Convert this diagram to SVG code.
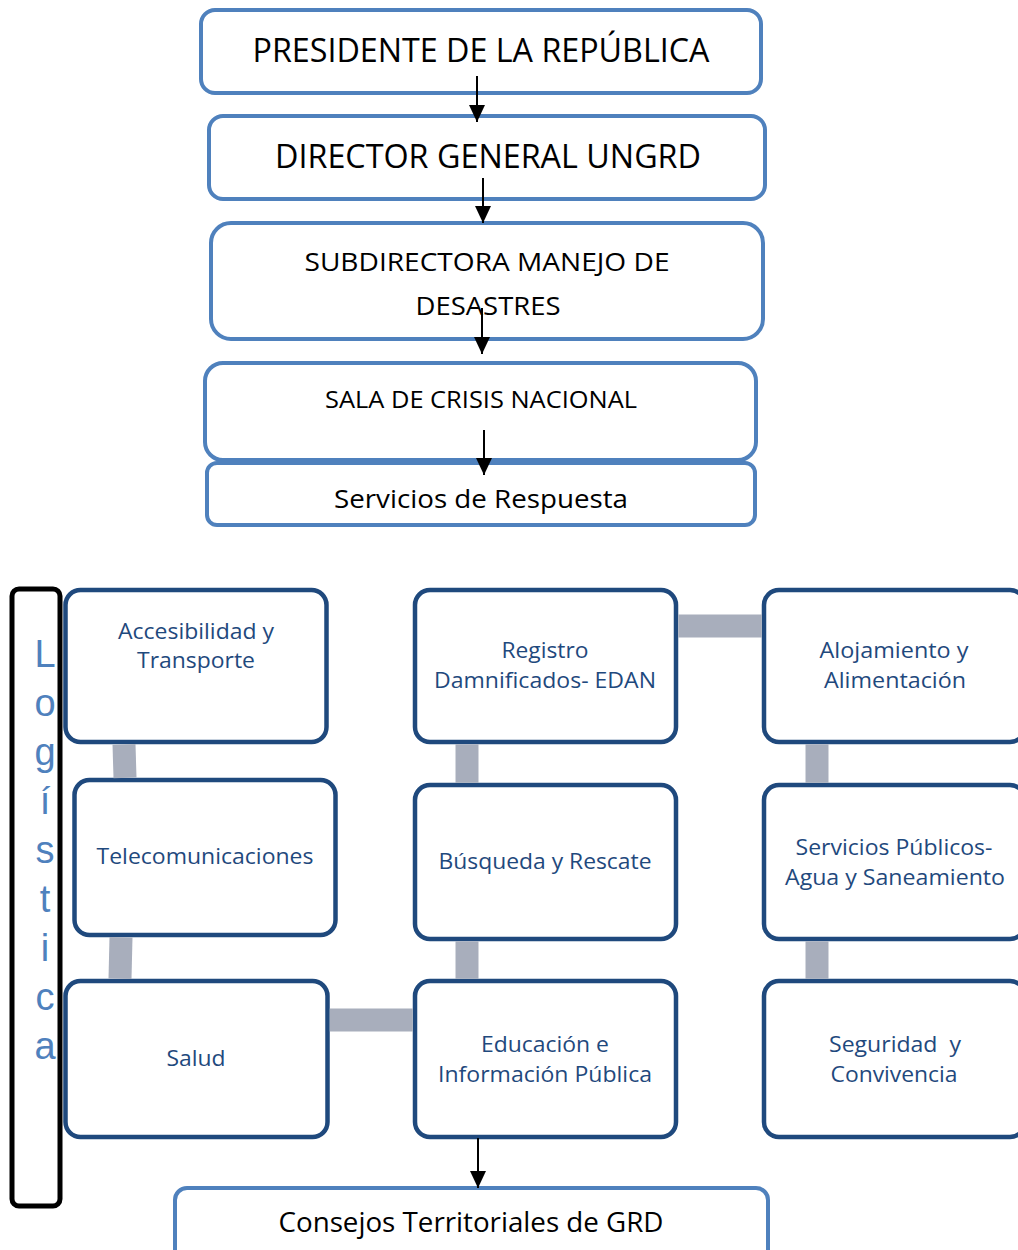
<svg xmlns="http://www.w3.org/2000/svg" width="1018" height="1250" viewBox="0 0 1018 1250">
<style>
.top{fill:#fff;stroke:#4F81BD;stroke-width:4}
.node{fill:#fff;stroke:#1F497D;stroke-width:4.5}
.tt{font-family:"Open Sans","Noto Sans",sans-serif;fill:#000;text-anchor:middle}
.nt{font-family:"Open Sans","Noto Sans",sans-serif;fill:#1F497D;text-anchor:middle;font-size:22px}
.link{stroke:#A8AEBC;stroke-width:23;fill:none}
.arrow{stroke:#000;stroke-width:2;fill:none;marker-end:url(#ah)}
</style>
<defs>
<marker id="ah" viewBox="0 0 17 16" markerWidth="17" markerHeight="16" refX="17" refY="8" orient="auto" markerUnits="userSpaceOnUse">
<path d="M0,0 L17,8 L0,16 z" fill="#000"/>
</marker>
</defs>
<rect width="1018" height="1250" fill="#fff"/>

<g id="node-presidente">
<rect class="top" x="201" y="10" width="560" height="83" rx="14"/>
<text class="tt" x="481" y="62" font-size="33" textLength="457" lengthAdjust="spacingAndGlyphs">PRESIDENTE DE LA REPÚBLICA</text>
</g>
<g id="node-director">
<rect class="top" x="209" y="116" width="556" height="83" rx="14"/>
<text class="tt" x="488" y="168" font-size="33" textLength="426" lengthAdjust="spacingAndGlyphs">DIRECTOR GENERAL UNGRD</text>
</g>
<g id="node-subdirectora">
<rect class="top" x="211" y="223" width="552" height="116" rx="20"/>
<text class="tt" x="487" y="271" font-size="26" textLength="365" lengthAdjust="spacingAndGlyphs">SUBDIRECTORA MANEJO DE</text>
<text class="tt" x="488" y="315" font-size="26" textLength="145" lengthAdjust="spacingAndGlyphs">DESASTRES</text>
</g>
<g id="node-sala">
<rect class="top" x="205" y="363" width="551" height="97" rx="18"/>
<text class="tt" x="481" y="408" font-size="24" textLength="312" lengthAdjust="spacingAndGlyphs">SALA DE CRISIS NACIONAL</text>
</g>
<g id="node-servicios-respuesta">
<rect class="top" x="207" y="463" width="548" height="62" rx="10"/>
<text class="tt" x="481" y="508" font-size="26" textLength="294" lengthAdjust="spacingAndGlyphs">Servicios de Respuesta</text>
</g>

<g id="node-logistica">
<rect x="12" y="589" width="48" height="617" rx="7" fill="#fff" stroke="#000" stroke-width="5"/>
<text font-family="'Liberation Sans',Arial,sans-serif" font-size="38" fill="#4F81BD" text-anchor="middle">
<tspan x="45" y="667">L</tspan><tspan x="45" y="716">o</tspan><tspan x="45" y="765">g</tspan><tspan x="45" y="814">í</tspan><tspan x="45" y="863">s</tspan><tspan x="45" y="912">t</tspan><tspan x="45" y="961">i</tspan><tspan x="45" y="1010">c</tspan><tspan x="45" y="1059">a</tspan>
</text>
</g>

<g id="node-accesibilidad">
<rect class="node" x="65.5" y="590" width="261" height="152" rx="15"/>
<text class="nt" x="196" y="639" textLength="156" lengthAdjust="spacingAndGlyphs">Accesibilidad y</text>
<text class="nt" x="196" y="668" textLength="118" lengthAdjust="spacingAndGlyphs">Transporte</text>
</g>
<g id="node-telecomunicaciones">
<rect class="node" x="74.5" y="780" width="261" height="155" rx="15"/>
<text class="nt" x="205" y="864" textLength="217" lengthAdjust="spacingAndGlyphs">Telecomunicaciones</text>
</g>
<g id="node-salud">
<rect class="node" x="65.5" y="981" width="262" height="156" rx="15"/>
<text class="nt" x="196" y="1066" textLength="59" lengthAdjust="spacingAndGlyphs">Salud</text>
</g>
<g id="node-registro">
<rect class="node" x="415" y="590" width="261" height="152" rx="15"/>
<text class="nt" x="545" y="658" textLength="87" lengthAdjust="spacingAndGlyphs">Registro</text>
<text class="nt" x="545" y="688" textLength="222" lengthAdjust="spacingAndGlyphs">Damnificados- EDAN</text>
</g>
<g id="node-busqueda">
<rect class="node" x="415" y="785" width="261" height="154" rx="15"/>
<text class="nt" x="545" y="869" textLength="213" lengthAdjust="spacingAndGlyphs">Búsqueda y Rescate</text>
</g>
<g id="node-educacion">
<rect class="node" x="415" y="981" width="261" height="156" rx="15"/>
<text class="nt" x="545" y="1052" textLength="128" lengthAdjust="spacingAndGlyphs">Educación e</text>
<text class="nt" x="545" y="1082" textLength="214" lengthAdjust="spacingAndGlyphs">Información Pública</text>
</g>
<g id="node-alojamiento">
<rect class="node" x="764" y="590" width="261" height="152" rx="15"/>
<text class="nt" x="894" y="658" textLength="149" lengthAdjust="spacingAndGlyphs">Alojamiento y</text>
<text class="nt" x="895" y="688" textLength="142" lengthAdjust="spacingAndGlyphs">Alimentación</text>
</g>
<g id="node-servicios-publicos">
<rect class="node" x="764" y="785" width="261" height="154" rx="15"/>
<text class="nt" x="894" y="855" textLength="197" lengthAdjust="spacingAndGlyphs">Servicios Públicos-</text>
<text class="nt" x="895" y="885" textLength="220" lengthAdjust="spacingAndGlyphs">Agua y Saneamiento</text>
</g>
<g id="node-seguridad">
<rect class="node" x="764" y="981" width="261" height="156" rx="15"/>
<text class="nt" x="895" y="1052" textLength="132" lengthAdjust="spacingAndGlyphs" xml:space="preserve">Seguridad  y</text>
<text class="nt" x="894" y="1082" textLength="127" lengthAdjust="spacingAndGlyphs">Convivencia</text>
</g>

<g id="node-consejos">
<rect class="top" x="175" y="1188" width="593" height="90" rx="12"/>
<text class="tt" x="471" y="1232" font-size="27" textLength="385" lengthAdjust="spacingAndGlyphs">Consejos Territoriales de GRD</text>
</g>

<g id="connectors">
<line class="link" x1="124" y1="744.3" x2="125" y2="777.8"/>
<line class="link" x1="121" y1="937.3" x2="120" y2="978.8"/>
<line class="link" x1="329.8" y1="1020" x2="412.8" y2="1020"/>
<line class="link" x1="467" y1="744.3" x2="467" y2="782.8"/>
<line class="link" x1="467" y1="941.3" x2="467" y2="978.8"/>
<line class="link" x1="678.3" y1="626" x2="761.8" y2="626"/>
<line class="link" x1="817" y1="744.3" x2="817" y2="782.8"/>
<line class="link" x1="817" y1="941.3" x2="817" y2="978.8"/>
<line class="arrow" x1="477" y1="76" x2="477" y2="122"/>
<line class="arrow" x1="483" y1="178" x2="483" y2="223"/>
<line class="arrow" x1="482" y1="308" x2="482" y2="354"/>
<line class="arrow" x1="484" y1="430" x2="484" y2="475"/>
<line class="arrow" x1="478" y1="1138" x2="478" y2="1188"/>
</g>
</svg>
